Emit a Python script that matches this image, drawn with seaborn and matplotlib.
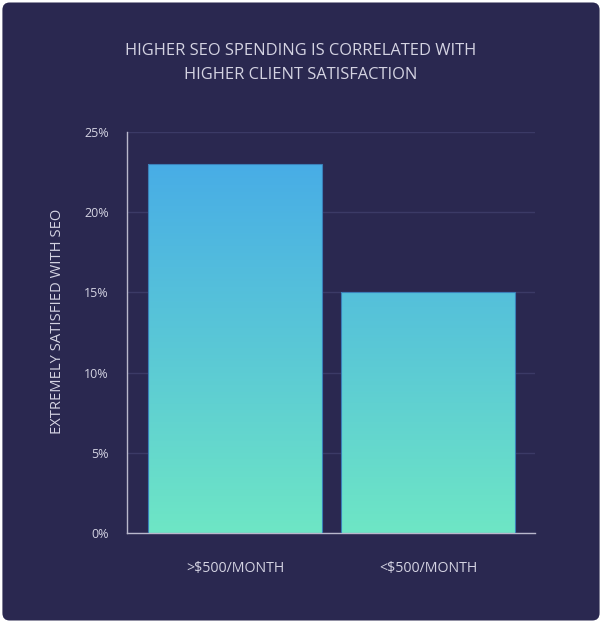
import numpy as np
import pandas as pd
import matplotlib
matplotlib.use("Agg")
import matplotlib.pyplot as plt
import seaborn as sns
from matplotlib.colors import LinearSegmentedColormap
from matplotlib.patches import FancyBboxPatch

categories = [">$500/MONTH", "<$500/MONTH"]
values = [23.0, 15.0]
yticks = [0, 5, 10, 15, 20, 25]
ytick_labels = ["0%", "5%", "10%", "15%", "20%", "25%"]
title = "HIGHER SEO SPENDING IS CORRELATED WITH\nHIGHER CLIENT SATISFACTION"
ylabel = "EXTREMELY SATISFIED WITH SEO"

BG = "#2a2850"
TXT = "#d4d3e2"

sns.set_theme(style="white")
plt.rcParams['font.family'] = ['Open Sans', 'DejaVu Sans']

df = pd.DataFrame({"cat": categories, "val": values})

fig = plt.figure(figsize=(6.02, 6.23), dpi=100)
fig.patch.set_facecolor("white")
bgpatch = FancyBboxPatch((0.004, 0.004), 0.992, 0.992, boxstyle="round,pad=0,rounding_size=0.012",
                         transform=fig.transFigure, facecolor=BG, edgecolor="none", zorder=-10)
fig.patches.append(bgpatch)

ax = fig.add_axes([127/602, 90/623, 408/602, 401/623])
ax.set_facecolor("none")

sns.barplot(data=df, x="cat", y="val", ax=ax, width=0.9, color="#4fb8de",
            edgecolor="#3b7fb8", linewidth=0.8, saturation=1)

ax.set_ylim(0, 25)
ax.set_xlim(-0.56, 1.555)

cmap = LinearSegmentedColormap.from_list("g", ["#6ee6c5", "#5ac8d6", "#48ade6"])
grad = np.linspace(0, 1, 256).reshape(-1, 1)
for p in ax.patches:
    x0, y0 = p.get_x(), p.get_y()
    w, h = p.get_width(), p.get_height()
    im = ax.imshow(grad, cmap=cmap, origin="lower", aspect="auto",
                   extent=(x0, x0 + w, 0, max(values)), zorder=2)
    im.set_clip_path(p)
    p.set_zorder(3)
    p.set_facecolor("none")

ax.set_yticks(yticks)
ax.set_yticklabels(ytick_labels)
ax.yaxis.grid(True, color="#3b3a66", linewidth=1)
ax.set_axisbelow(True)
for s in ["top", "right"]:
    ax.spines[s].set_visible(False)
for s in ["left", "bottom"]:
    ax.spines[s].set_color("#b9b8cc")
    ax.spines[s].set_linewidth(1)
ax.tick_params(axis="y", colors=TXT, labelsize=9, length=0, pad=13)
ax.tick_params(axis="x", colors=TXT, labelsize=10.2, length=0, pad=20)
ax.set_xlabel("")
ax.set_ylabel(ylabel, color=TXT, fontsize=10.6)
ax.yaxis.set_label_coords(-0.153, 0.527)

fig.text(0.5, 0.899, title, ha="center", va="center", color=TXT, fontsize=11.9,
         linespacing=1.7)

fig.savefig("out.png", dpi=100, facecolor=fig.get_facecolor())
